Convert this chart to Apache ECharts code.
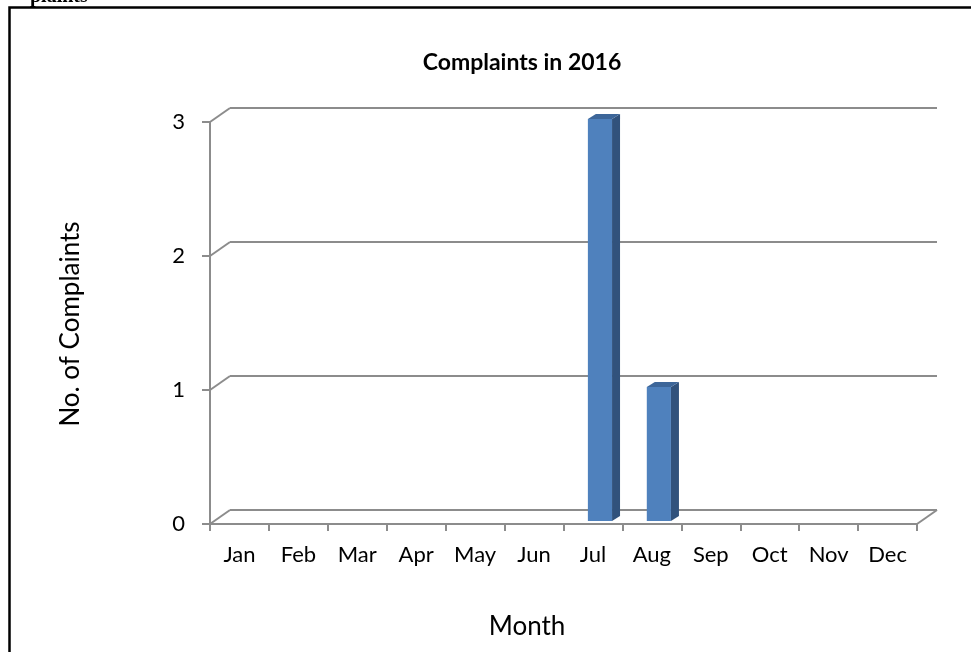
<!DOCTYPE html>
<html><head><meta charset="utf-8">
<script src="https://cdn.jsdelivr.net/npm/echarts@6/dist/echarts.min.js"></script>
<style>html,body{margin:0;padding:0;background:#fff}#c{width:971px;height:652px}</style>
</head><body><div id="c"></div>
<script>
const months = ['Jan','Feb','Mar','Apr','May','Jun','Jul','Aug','Sep','Oct','Nov','Dec'];
const complaints = [0,0,0,0,0,0,3,1,0,0,0,0];
const yTicks = [0,1,2,3];
const chartTitle = 'Complaints in 2016';
const xTitle = 'Month';
const yTitle = 'No. of Complaints';
const cutText = 'plaints';

const FONT = 'Lato, "Open Sans", sans-serif';
const GRID_COLOR = '#8c8c8c';
const DEPTH_X = 20, DEPTH_Y = 14;
const BAR_SHIFT_X = 7, BAR_SHIFT_Y = 3;
const BAR_W_FRAC = 0.41;
const BAR_DX = 8, BAR_DY = 5;

const chart = echarts.init(document.getElementById('c'), null, {renderer: 'canvas'});

function diagRender(params, api) {
  const v = api.value(1);
  const p = api.coord([0, v]);
  const w = api.size([1, 0])[0];
  const x0 = p[0] - w / 2;
  const st = {stroke: GRID_COLOR, lineWidth: 2};
  const children = [{type: 'line', shape: {x1: x0, y1: p[1], x2: x0 + DEPTH_X, y2: p[1] - DEPTH_Y}, style: st}];
  if (v === 0) {
    const x1 = x0 + w * months.length;
    children.push({type: 'line', shape: {x1: x1, y1: p[1], x2: x1 + DEPTH_X, y2: p[1] - DEPTH_Y}, style: st});
  }
  return {type: 'group', children: children};
}

function barRender(params, api) {
  const v = api.value(1);
  if (!v) return null;
  const idx = api.value(0);
  const base = api.coord([idx, 0]);
  const top = api.coord([idx, v]);
  const cw = api.size([1, 0])[0];
  const bw = cw * BAR_W_FRAC;
  const x0 = base[0] - bw / 2 + BAR_SHIFT_X;
  const x1 = x0 + bw;
  const yb = base[1] - BAR_SHIFT_Y;
  const yt = top[1] - BAR_SHIFT_Y;
  return {type: 'group', children: [
    {type: 'polygon', shape: {points: [[x1, yt], [x1 + BAR_DX, yt - BAR_DY], [x1 + BAR_DX, yb - BAR_DY], [x1, yb]]}, style: {fill: '#31527C'}},
    {type: 'polygon', shape: {points: [[x0, yt], [x0 + BAR_DX, yt - BAR_DY], [x1 + BAR_DX, yt - BAR_DY], [x1, yt]]}, style: {fill: '#3D6699'}},
    {type: 'rect', shape: {x: x0, y: yt, width: bw, height: yb - yt}, style: {fill: '#4F81BD'}}
  ]};
}

const option = {
  animation: false,
  backgroundColor: '#fff',
  grid: [
    {left: 210, top: 122, width: 707, height: 402},
    {left: 230, top: 108, width: 707, height: 402}
  ],
  xAxis: [
    {type: 'category', gridIndex: 0, data: months, boundaryGap: true,
     axisLine: {show: true, lineStyle: {color: GRID_COLOR, width: 2}},
     axisTick: {show: true, length: 7, lineStyle: {color: GRID_COLOR, width: 2}},
     axisLabel: {color: '#000', fontSize: 22, fontFamily: FONT, margin: 20, interval: 0},
     splitLine: {show: false}},
    {type: 'category', gridIndex: 1, data: months, show: false}
  ],
  yAxis: [
    {type: 'value', gridIndex: 0, min: 0, max: 3, interval: 1,
     axisLine: {show: true, lineStyle: {color: GRID_COLOR, width: 2}},
     axisTick: {show: true, length: 8, lineStyle: {color: GRID_COLOR, width: 2}},
     axisLabel: {color: '#000', fontSize: 22, fontFamily: FONT, margin: 25},
     splitLine: {show: false}},
    {type: 'value', gridIndex: 1, min: 0, max: 3, interval: 1,
     axisLine: {show: false}, axisTick: {show: false}, axisLabel: {show: false},
     splitLine: {show: true, lineStyle: {color: GRID_COLOR, width: 2}}}
  ],
  series: [
    {type: 'custom', xAxisIndex: 0, yAxisIndex: 0, silent: true, z: 1,
     data: yTicks.map(v => [0, v]), renderItem: diagRender, clip: false},
    {type: 'custom', xAxisIndex: 0, yAxisIndex: 0, z: 5,
     data: complaints.map((v, i) => [i, v]), renderItem: barRender, clip: false}
  ],
  graphic: [
    {type: 'rect', silent: true, shape: {x: 9.5, y: 7.5, width: 1000, height: 700},
     style: {fill: 'none', stroke: '#000', lineWidth: 2.5}},
    {type: 'text', silent: true, x: 30, y: 7,
     style: {text: cutText, font: 'bold 20px "Liberation Serif", serif', fill: '#000', align: 'left', verticalAlign: 'bottom'}},
    {type: 'text', silent: true, x: 522, y: 63,
     style: {text: chartTitle, font: 'bold 23px ' + FONT, fill: '#000', align: 'center', verticalAlign: 'middle'}},
    {type: 'text', silent: true, x: 527, y: 627,
     style: {text: xTitle, font: '26px ' + FONT, fill: '#000', align: 'center', verticalAlign: 'middle'}},
    {type: 'text', silent: true, x: 71, y: 324, rotation: Math.PI / 2,
     style: {text: yTitle, font: '26px ' + FONT, fill: '#000', align: 'center', verticalAlign: 'middle'}}
  ]
};
chart.setOption(option);
</script></body></html>
